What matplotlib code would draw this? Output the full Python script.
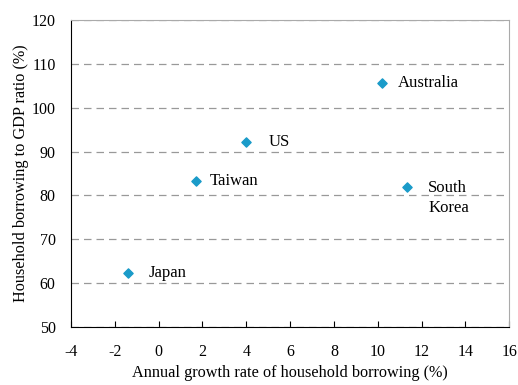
import matplotlib.pyplot as plt

plt.rcParams['font.family'] = ['Liberation Serif', 'DejaVu Serif']
plt.rcParams['axes.unicode_minus'] = False

# household borrowing data
countries = ['Australia', 'US', 'Taiwan', 'South\nKorea', 'Japan']
growth = [10.2, 4.0, 1.7, 11.35, -1.4]
ratio = [105.6, 92.1, 83.3, 81.9, 62.3]
offsets = [(11.5, 0), (16, 0), (10, 0), (15, -8), (15, 0)]

fig = plt.figure(figsize=(5.18, 3.85), dpi=100)
ax = fig.add_axes([0.137, 0.151, 0.846, 0.797])

ax.scatter(growth, ratio, marker='D', s=22, color='#1a9bc9', zorder=3)
for name, x, y, off in zip(countries, growth, ratio, offsets):
    ax.annotate(name, (x, y), xytext=off, textcoords='offset points',
                va='center', ha='left', fontsize=12, linespacing=1.35)

ax.set_xlim(-4, 16)
ax.set_ylim(50, 120)
ax.set_xticks(range(-4, 17, 2))
ax.set_yticks(range(50, 121, 10))
ax.yaxis.grid(True, linestyle=(0, (6, 4)), color='#999999', linewidth=0.9)
ax.set_axisbelow(True)

for s in ['top', 'right']:
    ax.spines[s].set_color('#aaaaaa')
ax.tick_params(axis='x', direction='in', length=4, labelsize=11.5, pad=12)
ax.tick_params(axis='y', length=0, labelsize=11.5, pad=11)

ax.set_xlabel('Annual growth rate of household borrowing (%)', fontsize=11.7, labelpad=4)
ax.set_ylabel('Household borrowing to GDP ratio (%)', fontsize=11.7, labelpad=2)

fig.savefig('out.png', dpi=100)
